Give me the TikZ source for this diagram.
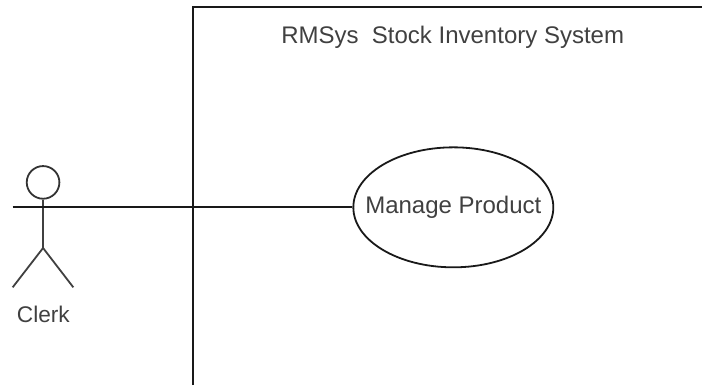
\documentclass[tikz,border=0pt]{standalone}
\usepackage{fontspec}
\setmainfont{Liberation Sans}
\usetikzlibrary{shapes.geometric}
\tikzset{line/.style={draw=black!90,line width=1.35pt},
 usecase/.style={ellipse,draw=black!90,line width=1.35pt,minimum width=150pt,minimum height=90pt,inner sep=0pt},
 lbl/.style={text=black!75,font=\fontsize{18}{21}\selectfont,inner sep=0pt}}
\begin{document}
\begin{tikzpicture}[x=1pt,y=-1pt]
\useasboundingbox (0,0) rectangle (526.5,288.75);
\coordinate (bl) at (144.5,288.75);
\coordinate (tl) at (144.5,5.4);
\coordinate (tr) at (526.5,5.4);
\draw[line,line join=miter] (bl) -- (tl) -- (tr);
\node[lbl] (title) at (339.5,27.7) {RMSys\ \ Stock Inventory System};
\node[usecase] (uc) at (340,155.5) {};
\node[lbl] (uct) at (340,155.7) {Manage Product};
\node[circle,draw=black!80,line width=1.35pt,minimum size=24.5pt,inner sep=0pt] (head) at (32.3,136.8) {};
\coordinate (hip) at (32.3,186);
\coordinate (armL) at (9.5,155.5);
\coordinate (armR) at (55,155.5);
\coordinate (footL) at (9.5,215.5);
\coordinate (footR) at (55,215.5);
\draw[line,draw=black!75] (head) -- (hip);
\draw[line,draw=black!75] (footL) -- (hip) -- (footR);
\draw[line] (armL) -- (armR);
\draw[line] (armR) -- (uc);
\node[lbl,font=\fontsize{17}{20}\selectfont] (clerk) at (32.5,235.5) {Clerk};
\end{tikzpicture}
\end{document}
